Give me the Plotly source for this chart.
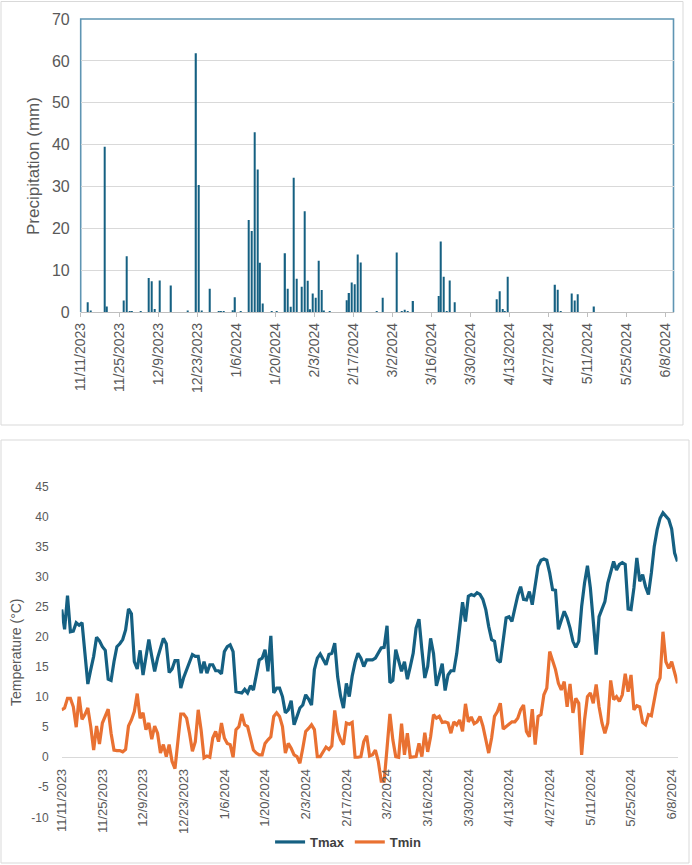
import pandas as pd
import plotly.graph_objects as go

# ---------------- data ----------------
start_date = "2023-11-11"

precip_dates = [
    "2023-11-13", "2023-11-14", "2023-11-19", "2023-11-20", "2023-11-26", "2023-11-27",
    "2023-11-28", "2023-11-29", "2023-12-02", "2023-12-05", "2023-12-06", "2023-12-07",
    "2023-12-09", "2023-12-13", "2023-12-19", "2023-12-22", "2023-12-23", "2023-12-24",
    "2023-12-27", "2023-12-30", "2023-12-31", "2024-01-01", "2024-01-04", "2024-01-05",
    "2024-01-07", "2024-01-10", "2024-01-11", "2024-01-12", "2024-01-13", "2024-01-14",
    "2024-01-15", "2024-01-18", "2024-01-20", "2024-01-23", "2024-01-24", "2024-01-25",
    "2024-01-26", "2024-01-27", "2024-01-29", "2024-01-30", "2024-01-31", "2024-02-01",
    "2024-02-02", "2024-02-03", "2024-02-04", "2024-02-05", "2024-02-06", "2024-02-08",
    "2024-02-14", "2024-02-15", "2024-02-16", "2024-02-17", "2024-02-18", "2024-02-19",
    "2024-02-25", "2024-02-27", "2024-03-03", "2024-03-05", "2024-03-06", "2024-03-07",
    "2024-03-09", "2024-03-18", "2024-03-19", "2024-03-20", "2024-03-21", "2024-03-22",
    "2024-03-24", "2024-04-08", "2024-04-09", "2024-04-10", "2024-04-11", "2024-04-12",
    "2024-04-29", "2024-04-30", "2024-05-01", "2024-05-05", "2024-05-06", "2024-05-07",
    "2024-05-13",
]
precip_mm = [
    2.4, 0.4, 39.5, 1.4, 2.8, 13.4,
    0.2, 0.2, 0.2, 8.2, 7.4, 0.8,
    7.6, 6.4, 0.4, 61.8, 30.4, 0.4,
    5.6, 0.2, 0.2, 0.2, 0.5, 3.6,
    0.2, 22.0, 19.4, 43.0, 34.1, 11.8,
    2.1, 0.2, 0.2, 14.1, 5.6, 1.3,
    32.1, 8.0, 6.1, 24.1, 7.5, 0.7,
    4.5, 3.5, 12.3, 5.3, 0.4, 0.2,
    2.9, 4.6, 7.1, 6.7, 13.8, 11.9,
    0.2, 3.5, 14.3, 0.2, 0.6, 0.2,
    2.7, 3.9, 16.9, 8.5, 0.2, 7.6,
    2.4, 3.1, 5.0, 0.8, 0.2, 8.5,
    6.6, 5.4, 0.2, 4.5, 2.8, 4.3,
    1.4,
]

tmax = [
    24.6, 21.3, 26.9, 20.9, 21.0, 22.4, 22.0, 22.4, 17.3, 12.2,
    14.6, 16.8, 20.0, 19.4, 18.4, 17.8, 13.0, 12.8, 15.9, 18.4,
    18.9, 19.6, 21.2, 24.7, 23.9, 15.9, 14.7, 17.8, 13.7, 17.1,
    19.6, 16.8, 14.3, 16.5, 18.4, 19.8, 18.9, 14.1, 14.7, 16.1,
    16.1, 11.5, 13.3, 14.6, 15.8, 17.1, 16.8, 16.8, 14.0, 15.9,
    14.0, 15.4, 15.4, 14.4, 14.4, 13.9, 17.6, 18.4, 18.7, 17.6,
    10.9, 10.8, 10.7, 11.3, 10.7, 11.9, 11.2, 13.7, 16.2, 16.5,
    17.9, 14.3, 20.2, 10.7, 11.5, 11.5, 10.1, 7.4, 7.9, 9.4,
    5.4, 6.8, 8.2, 8.7, 10.4, 9.7, 8.7, 14.6, 16.5, 17.2,
    16.2, 15.4, 17.1, 17.3, 19.0, 13.4, 10.2, 8.2, 12.3, 10.1,
    13.5, 15.8, 17.3, 16.5, 15.1, 16.2, 16.2, 16.2, 16.5, 17.5,
    18.2, 18.3, 21.9, 12.4, 12.8, 17.9, 16.2, 14.3, 15.9, 13.0,
    15.1, 17.3, 21.5, 23.0, 17.9, 13.2, 15.1, 19.8, 17.3, 11.9,
    13.7, 15.6, 11.1, 13.7, 14.4, 14.4, 17.3, 21.2, 25.8, 22.6,
    26.8, 27.1, 26.9, 27.4, 27.1, 26.3, 24.6, 21.8, 19.6, 19.3,
    16.2, 15.8, 20.1, 23.2, 23.4, 22.6, 24.8, 26.9, 28.4, 26.3,
    26.2, 27.6, 25.4, 29.0, 31.8, 32.8, 33.0, 32.8, 30.7, 27.9,
    27.8, 21.3, 22.9, 24.3, 23.2, 21.5, 19.3, 18.3, 19.3, 25.1,
    29.0, 31.9, 28.2, 22.1, 17.1, 23.4, 24.8, 25.9, 29.0, 30.7,
    32.6, 31.2, 32.1, 32.4, 32.1, 24.7, 24.6, 28.2, 33.2, 29.3,
    30.4, 28.4, 27.1, 30.7, 35.1, 37.9, 39.8, 40.7, 40.2, 39.6,
    38.0, 34.0, 32.6,
]

tmin = [
    7.9, 8.2, 9.8, 9.8, 8.4, 5.0, 10.1, 6.3, 7.1, 8.2,
    5.1, 1.2, 5.2, 2.2, 5.7, 6.8, 8.0, 4.0, 1.2, 1.1,
    1.1, 0.9, 1.3, 5.2, 6.2, 7.6, 10.6, 6.5, 7.4, 4.6,
    5.7, 3.0, 5.2, 4.0, 0.7, 2.1, 0.1, 2.1, -0.7, -1.9,
    3.0, 7.2, 7.2, 6.5, 4.0, 1.0, 2.6, 7.9, 4.5, -0.1,
    0.2, 0.0, 3.2, 4.3, 2.6, 5.7, 3.2, 2.3, 2.1, 0.0,
    4.6, 5.1, 7.2, 5.4, 5.1, 2.9, 1.2, 0.7, 0.4, 0.4,
    2.3, 2.9, 3.4, 6.8, 7.4, 6.8, 5.1, 0.7, 2.3, 1.5,
    0.4, 0.1, -1.0, 1.5, 4.3, 4.8, 5.4, 4.6, 0.1, 0.1,
    0.9, 1.7, 1.3, 1.9, 7.8, 4.3, 2.9, 2.1, 5.7, 5.5,
    5.8, 0.0, 0.0, 0.1, 2.6, 3.6, 0.2, 0.4, 1.2, -0.7,
    -4.0, -4.0, 1.5, 7.2, 2.9, 0.1, 0.0, 5.6, 0.4, 4.0,
    0.0, 0.0, 0.1, 2.3, 0.1, 4.1, 0.9, 3.4, 7.1, 6.5,
    6.8, 5.8, 5.9, 5.7, 4.0, 5.9, 5.4, 6.2, 4.3, 8.9,
    5.9, 6.7, 5.6, 5.9, 6.8, 5.2, 2.6, 0.7, 3.2, 6.8,
    7.6, 9.0, 4.7, 5.1, 5.6, 5.9, 5.9, 6.5, 7.9, 8.7,
    4.3, 3.4, 8.0, 2.1, 6.8, 7.1, 10.4, 11.5, 17.6, 16.2,
    14.6, 12.3, 11.2, 12.6, 8.4, 12.2, 7.4, 9.8, 9.0, 0.4,
    6.2, 10.1, 10.7, 9.0, 12.1, 8.4, 5.7, 4.0, 5.7, 12.8,
    9.6, 10.1, 9.3, 10.4, 13.9, 10.9, 13.7, 7.9, 8.6, 8.4,
    5.8, 5.4, 7.1, 6.9, 9.8, 12.1, 13.2, 20.9, 15.9, 14.8,
    15.9, 14.0, 12.3,
]

temp_tickvals = [-10, -5, 0, 5, 10, 15, 20, 25, 30, 35, 40, 45]
temp_ticktext = ["-10", "-5", "0", "5", "10", "15", "20", "25", "30", "35", "40", "45"]

temp_dates = pd.date_range(start_date, periods=len(tmax), freq="D")

# ---------------- styling ----------------
W, H = 692, 865
DAY = 86400000
GRAY = "#595959"
BLUE = "#156082"
ORANGE = "#E97132"
FONT = "Liberation Sans, Arial, sans-serif"


def px(x):
    return x / W


def py(y):
    return 1 - y / H


top_dom_x = [px(80.7), px(673.5)]
top_dom_y = [py(312.3), py(19.0)]
bot_dom_x = [px(61.7), px(677.5)]
bot_dom_y = [py(817.3), py(487.0)]

fig = go.Figure()

fig.add_trace(go.Bar(
    x=precip_dates, y=precip_mm,
    xperiod=DAY, xperiodalignment="middle",
    width=0.45 * DAY,
    marker=dict(color=BLUE, line=dict(width=0)),
    xaxis="x", yaxis="y", showlegend=False,
))

fig.add_trace(go.Scatter(
    x=temp_dates, y=tmax, mode="lines", name="Tmax",
    line=dict(color=BLUE, width=3.2),
    xaxis="x2", yaxis="y2",
))
fig.add_trace(go.Scatter(
    x=temp_dates, y=tmin, mode="lines", name="Tmin",
    line=dict(color=ORANGE, width=3.2),
    xaxis="x2", yaxis="y2",
))

date_axis_common = dict(
    type="date",
    tick0=start_date,
    dtick=14 * DAY,
    tickformat="%-m/%-d/%Y",
    tickangle=-90,
    showgrid=False,
    zeroline=False,
)

fig.update_layout(
    width=W, height=H,
    margin=dict(l=0, r=0, t=0, b=0),
    paper_bgcolor="white",
    plot_bgcolor="rgba(0,0,0,0)",
    font=dict(family=FONT, color=GRAY),
    template="none",
    xaxis=dict(
        **date_axis_common,
        domain=top_dom_x, anchor="y",
        range=["2023-11-11", "2024-06-11"],
        ticks="outside", ticklen=4, tickcolor="#bfbfbf",
        showline=True, linecolor="#bfbfbf", linewidth=1,
        tickfont=dict(size=14, color=GRAY),
    ),
    yaxis=dict(
        domain=top_dom_y, anchor="x",
        range=[0, 70], dtick=10,
        showgrid=True, gridcolor="#d9d9d9", gridwidth=1,
        zeroline=False, showline=False, ticks="",
        tickfont=dict(size=16, color=GRAY),
        ticklabelstandoff=10,
    ),
    xaxis2=dict(
        **date_axis_common,
        domain=bot_dom_x, anchor="free", position=py(757.3),
        range=["2023-11-11", "2024-06-10"],
        ticks="", showline=False,
        tickfont=dict(size=13, color=GRAY),
        ticklabelstandoff=8,
    ),
    yaxis2=dict(
        domain=bot_dom_y, anchor="x2",
        range=[-10, 45],
        tickmode="array", tickvals=temp_tickvals, ticktext=temp_ticktext,
        showgrid=False, zeroline=True, zerolinecolor="#d9d9d9", zerolinewidth=1.2,
        showline=False, ticks="",
        tickfont=dict(size=12, color=GRAY),
        ticklabelstandoff=12,
    ),
    legend=dict(
        orientation="h", x=0.503, xanchor="center", y=py(842), yanchor="middle",
        font=dict(size=13, color="#404040", weight="bold"), bgcolor="rgba(0,0,0,0)",
        itemwidth=30,
    ),
    annotations=[
        dict(text="Precipitation (mm)", x=px(33), y=py(166), xref="paper", yref="paper",
             textangle=-90, showarrow=False, xanchor="center", yanchor="middle",
             font=dict(size=17, color=GRAY)),
        dict(text="Temperature (°C)", x=px(15.5), y=py(652.5), xref="paper", yref="paper",
             textangle=-90, showarrow=False, xanchor="center", yanchor="middle",
             font=dict(size=14, color=GRAY)),
    ],
    shapes=[
        # outer chart frames
        dict(type="rect", xref="paper", yref="paper", x0=px(1), x1=px(683), y0=py(425), y1=py(1.5),
             line=dict(color="#d9d9d9", width=1), layer="below"),
        dict(type="rect", xref="paper", yref="paper", x0=px(1), x1=px(689), y0=py(863), y1=py(440),
             line=dict(color="#d9d9d9", width=1), layer="below"),
        # plot-area border of the precipitation chart
        dict(type="path", xref="paper", yref="paper",
             path=f"M {top_dom_x[0]},{top_dom_y[0]} L {top_dom_x[0]},{top_dom_y[1]} "
                  f"L {top_dom_x[1]},{top_dom_y[1]} L {top_dom_x[1]},{top_dom_y[0]}",
             line=dict(color="#5f95b3", width=1.6), layer="below"),
    ],
)

fig.write_html("out.html")
